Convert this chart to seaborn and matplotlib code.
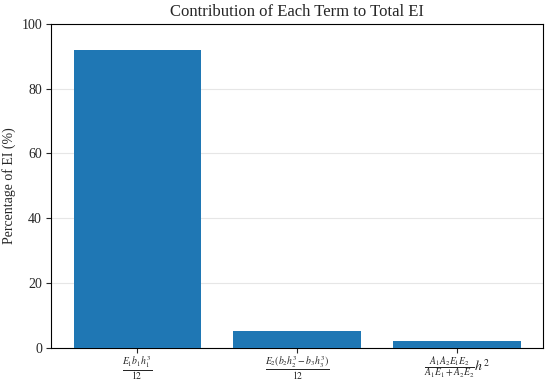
import pandas as pd
import matplotlib.pyplot as plt
import seaborn as sns

terms = [r'$\frac{E_1 b_1 h_1^3}{12}$',
         r'$\frac{E_2 (b_2 h_2^3 - b_3 h_3^3)}{12}$',
         r'$\frac{A_1 A_2 E_1 E_2}{A_1 E_1 + A_2 E_2} h^2$']
percent = [92.0, 5.0, 2.0]

df = pd.DataFrame({'term': terms, 'percent': percent})

sns.set_style('white')
plt.rcParams['font.family'] = ['Liberation Serif', 'DejaVu Serif']
plt.rcParams['mathtext.fontset'] = 'stix'

fig, ax = plt.subplots(figsize=(5.5, 3.82), dpi=100)
sns.barplot(data=df, x='term', y='percent', color='#1f77b4', saturation=1,
            width=0.8, linewidth=0, ax=ax, zorder=3)
ax.set_xlim(-0.54, 2.54)
ax.set_ylim(0, 100)
ax.yaxis.grid(True, color='#e6e6e6', linewidth=0.8, zorder=0)
ax.set_axisbelow(True)
ax.set_title('Contribution of Each Term to Total EI', fontsize=12)
ax.set_xlabel('')
ax.set_ylabel('Percentage of EI (%)', fontsize=10)
ax.tick_params(axis='both', labelsize=10, length=3.5, pad=3, direction='out', bottom=True, left=True)
ax.tick_params(axis='x', pad=1.5)
for s in ax.spines.values():
    s.set_color('black')
    s.set_linewidth(0.8)

plt.subplots_adjust(left=0.093, right=0.987, top=0.937, bottom=0.09)
fig.savefig('out.png')
